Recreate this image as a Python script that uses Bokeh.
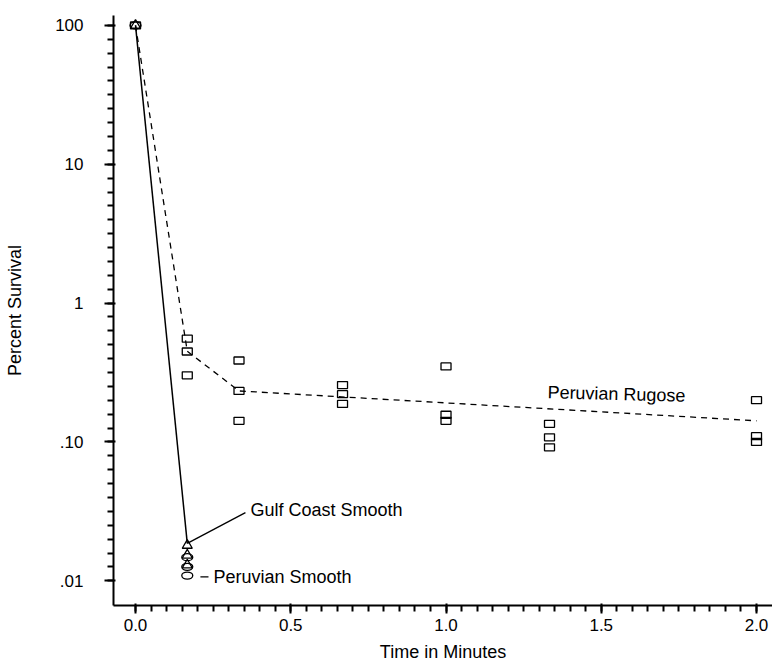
from bokeh.plotting import figure
from bokeh.models import FixedTicker, Range1d
from bokeh.core.properties import value
from bokeh.embed import file_html
from bokeh.resources import INLINE

# ---------------- data ----------------
rugose_t = [0.0, 0.1667, 0.1667, 0.1667, 0.3333, 0.3333, 0.3333, 0.6667, 0.6667, 0.6667,
            1.0, 1.0, 1.0, 1.3333, 1.3333, 1.3333, 2.0, 2.0, 2.0]
rugose_v = [100, 0.554, 0.448, 0.302, 0.386, 0.233, 0.142, 0.257, 0.221, 0.188,
            0.350, 0.157, 0.142, 0.135, 0.108, 0.0914, 0.200, 0.110, 0.100]

gulf_t = [0.0, 0.1667, 0.1667, 0.1667]
gulf_v = [100, 0.0180, 0.0153, 0.0130]

psmooth_t = [0.0, 0.1667, 0.1667, 0.1667]
psmooth_v = [100, 0.0148, 0.0126, 0.0109]

rugose_fit_t = [0.0, 0.1667, 0.3333, 2.0]
rugose_fit_v = [100, 0.45, 0.233, 0.142]

gulf_fit_t = [0.0, 0.1667]
gulf_fit_v = [100, 0.0186]

x_ticks = [0.0, 0.5, 1.0, 1.5, 2.0]
x_tick_labels = ["0.0", "0.5", "1.0", "1.5", "2.0"]
y_ticks = [0.01, 0.1, 1, 10, 100]
y_tick_labels = [".01", ".10", "1", "10", "100"]

FONT = "Liberation Sans"

p = figure(width=772, height=664, y_axis_type="log",
           x_range=Range1d(-0.0709, 2.0515), y_range=Range1d(0.00664, 117.8),
           output_backend="svg", toolbar_location=None,
           min_border_left=113, min_border_right=0, min_border_top=15, min_border_bottom=52)
p.outline_line_color = None
p.xgrid.grid_line_color = None
p.ygrid.grid_line_color = None

# axes
p.xaxis.ticker = FixedTicker(ticks=x_ticks, minor_ticks=[k * 0.05 for k in range(0, 41)])
p.xaxis.major_label_overrides = {t: l for t, l in zip(x_ticks, x_tick_labels)}
p.yaxis.ticker = FixedTicker(ticks=y_ticks, minor_ticks=[10 ** (k / 10) for k in range(-20, 21)])
p.yaxis.major_label_overrides = {t: l for t, l in zip(y_ticks, y_tick_labels)}

for axl in (p.xaxis, p.yaxis):
    axl.axis_line_width = 2
    axl.axis_line_color = "black"
    axl.major_tick_line_color = "black"
    axl.minor_tick_line_color = "black"
    axl.major_tick_line_width = 2
    axl.minor_tick_line_width = 2
    axl.major_label_text_font = FONT
    axl.major_label_text_font_size = "17px"
    axl.major_label_text_color = "black"
    axl.axis_label_text_font = FONT
    axl.axis_label_text_font_size = "18px"
    axl.axis_label_text_font_style = "normal"
    axl.axis_label_text_color = "black"

p.xaxis.axis_label = "Time in Minutes"
p.xaxis.major_tick_out = 8
p.xaxis.minor_tick_out = 6
p.xaxis.major_label_standoff = 5
p.xaxis.axis_label_standoff = 8

p.yaxis.axis_label = "Percent Survival"
p.yaxis.major_tick_out = 9
p.yaxis.minor_tick_out = 6
p.yaxis.major_label_standoff = 21
p.yaxis.axis_label_standoff = 27

# fitted lines
p.line(rugose_fit_t, rugose_fit_v, line_color="black", line_width=1.3, line_dash="6 5")
p.line(gulf_fit_t, gulf_fit_v, line_color="black", line_width=1.5)

# markers
p.rect(rugose_t, rugose_v, width=10, height=7, width_units="screen", height_units="screen",
       fill_color=None, line_color="black", line_width=1.3)
p.ellipse(psmooth_t, psmooth_v, width=11, height=7, width_units="screen", height_units="screen",
          fill_color=None, line_color="black", line_width=1.3)
p.scatter(gulf_t, gulf_v, marker="triangle", size=10, fill_color=None, line_color="black", line_width=1.3)

# annotations
p.segment(x0=[0.1667, 0.209], y0=[0.0186, 0.01067], x1=[0.354, 0.235], y1=[0.0310, 0.01067],
          line_color="black", line_width=1.3)
p.text(x=[0.370, 0.251], y=[0.0325, 0.01067], text=["Gulf Coast Smooth", "Peruvian Smooth"],
       text_font=value(FONT), text_font_size="18px", text_baseline="middle", text_align="left",
       text_color="black")
p.text(x=[1.327], y=[0.228], text=["Peruvian Rugose"], angle=-0.025,
       text_font=value(FONT), text_font_size="18px", text_baseline="middle", text_align="left",
       text_color="black")

open("out.html", "w").write(file_html(p, INLINE))
